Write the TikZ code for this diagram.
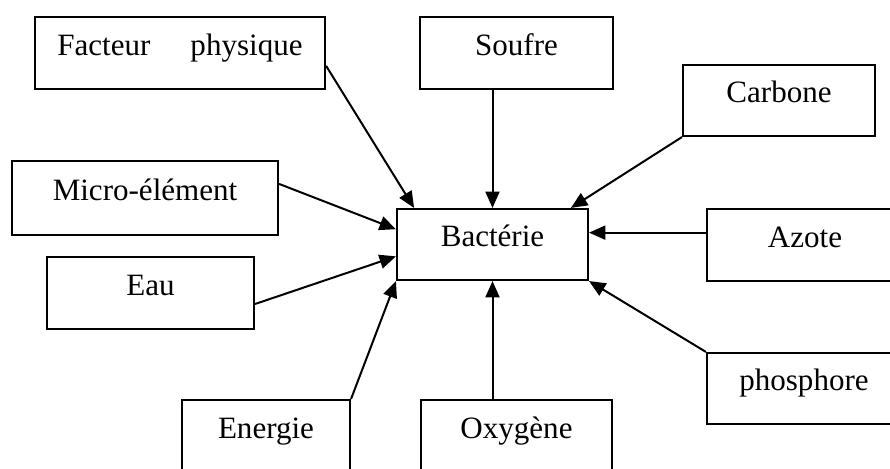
\documentclass[tikz,border=0pt]{standalone}
\usepackage{fontspec}
\setmainfont{Liberation Serif}
\usetikzlibrary{arrows.meta}

\begin{document}
\begin{tikzpicture}[x=0.03cm, y=-0.03cm,
		box/.style={draw, line width=1.8pt, inner sep=0pt, minimum height=2.16cm, text height=0.7em, text depth=0.3em, font=\fontsize{26.5}{30}\selectfont},
		arr/.style={line width=1.7pt, -{Triangle[length=14pt, width=12pt]}}]
			\useasboundingbox (0,0) rectangle (890,468);
			%centre box
			\node[box, minimum width=5.73cm, minimum height=2.13cm] (bact) at (492.5,244.5) {Bactérie};
			%outer boxes
			\node[box, minimum width=8.7cm] (facteur) at (180,53) {Facteur\hspace{1.2cm}physique};
			\node[box, minimum width=5.79cm] (soufre) at (516.5,53) {Soufre};
			\node[box, minimum width=5.76cm, minimum height=2.13cm] (carbone) at (779,100.5) {Carbone};
			\node[box, minimum width=7.98cm, minimum height=2.22cm] (micro) at (145,198) {Micro-élément};
			\node[box, minimum width=5.88cm] (azote) at (805,245) {Azote};
			\node[box, minimum width=6.21cm] (eau) at (150.5,293) {Eau};
			\node[box, minimum width=5.82cm, minimum height=2.13cm] (phos) at (804,388.5) {phosphore};
			\node[box, minimum width=5.04cm] (energie) at (266,436) {Energie};
			\node[box, minimum width=5.73cm] (oxy) at (516.5,436) {Oxygène};
			%arrows into the centre
			\draw[arr] (facteur.-5) -- (bact.155);
			\draw[arr] (soufre.south -| bact.north) -- (bact.north);
			\draw[arr] (carbone.south west) -- (bact.25);
			\draw[arr] (micro.6) -- (bact.171);
			\draw[arr] (azote.west |- bact.7) -- (bact.7);
			\draw[arr] (eau.-6) -- (bact.187);
			\draw[arr] (phos.north west) -- (bact.south east);
			\draw[arr] (energie.north east) -- (bact.south west);
			\draw[arr] (oxy.north -| bact.south) -- (bact.south);
		\end{tikzpicture}
\end{document}
